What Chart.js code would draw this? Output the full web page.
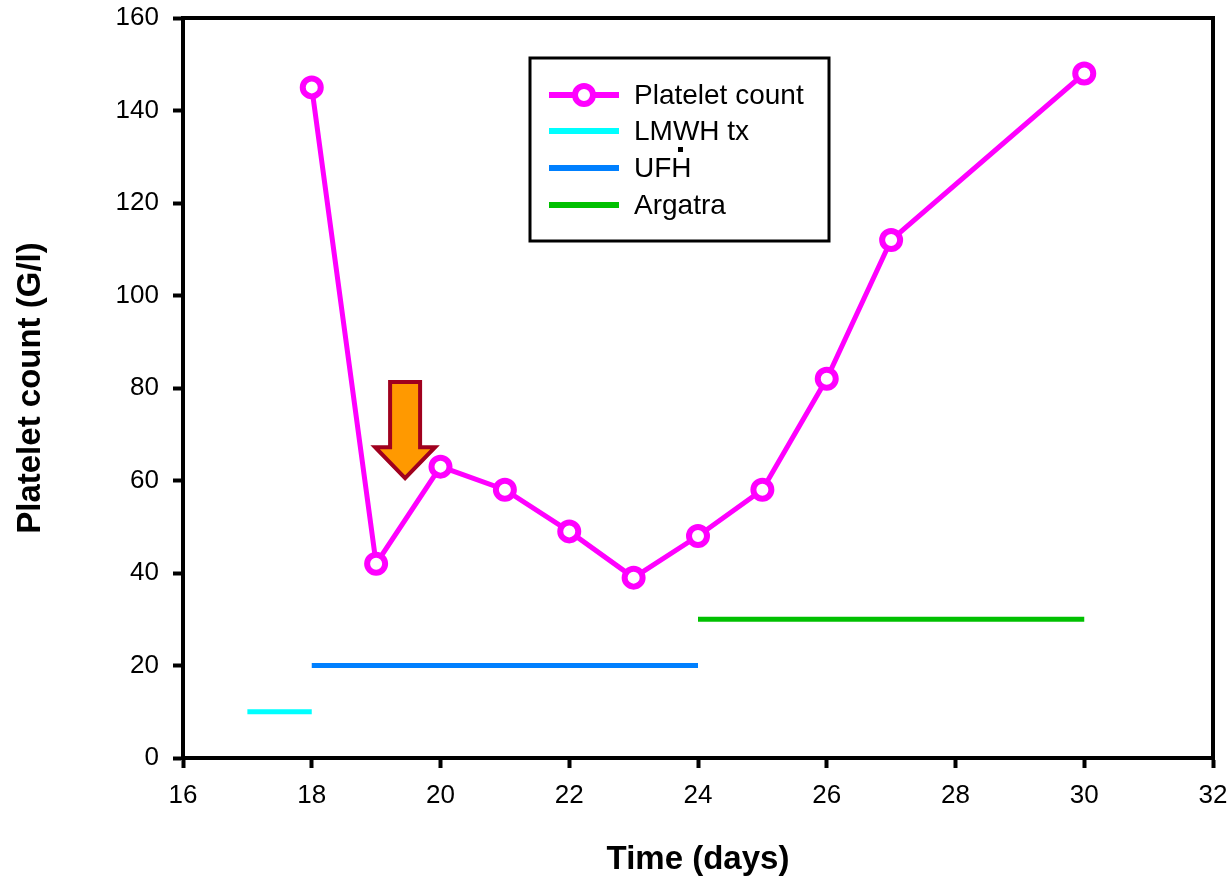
<!DOCTYPE html>
<html>
<head>
<meta charset="utf-8">
<script src="https://cdn.jsdelivr.net/npm/chart.js@4.4.1/dist/chart.umd.min.js"></script>
<style>
  html, body { margin: 0; padding: 0; background: #fff; }
  canvas { display: block; }
</style>
</head>
<body>
<canvas id="c" width="1231" height="881"></canvas>
<script>
// ---- data ----
const days = [18, 19, 20, 21, 22, 23, 24, 25, 26, 27, 30];
const platelets = [145, 42, 63, 58, 49, 39, 48, 58, 82, 112, 148];
const lmwhDays = [17, 18];
const lmwhLevel = [10, 10];
const ufhDays = [18, 24];
const ufhLevel = [20, 20];
const argatraDays = [24, 30];
const argatraLevel = [30, 30];
const seriesLabels = ['Platelet count', 'LMWH tx', 'UFH', 'Argatra'];
const xTitle = 'Time (days)';
const yTitle = 'Platelet count (G/l)';
// arrow annotation (data coords)
const arrowX = 19.45, arrowTop = 81.3, arrowTip = 60.5;

const FONT = '"Liberation Sans", Arial, sans-serif';
const pts = (xs, ys) => xs.map((x, i) => ({ x: x, y: ys[i] }));

const frame = {
  id: 'frame',
  beforeDatasetsDraw(chart) {
    const { ctx, chartArea: a } = chart;
    ctx.save();
    ctx.strokeStyle = '#000';
    ctx.lineWidth = 4;
    ctx.strokeRect(a.left, a.top, a.right - a.left, a.bottom - a.top);
    ctx.restore();
  }
};

const arrow = {
  id: 'arrow',
  afterDatasetsDraw(chart) {
    const { ctx, scales: { x, y } } = chart;
    const cx = x.getPixelForValue(arrowX);
    const top = y.getPixelForValue(arrowTop);
    const tip = y.getPixelForValue(arrowTip);
    const headLen = 31, shaftHW = 15, headHW = 30;
    const base = tip - headLen;
    ctx.save();
    ctx.beginPath();
    ctx.moveTo(cx - shaftHW, top);
    ctx.lineTo(cx + shaftHW, top);
    ctx.lineTo(cx + shaftHW, base);
    ctx.lineTo(cx + headHW, base);
    ctx.lineTo(cx, tip);
    ctx.lineTo(cx - headHW, base);
    ctx.lineTo(cx - shaftHW, base);
    ctx.closePath();
    ctx.fillStyle = '#FF9900';
    ctx.fill();
    ctx.lineWidth = 4;
    ctx.lineJoin = 'miter';
    ctx.strokeStyle = '#A0001E';
    ctx.stroke();
    ctx.restore();
  }
};

const legendBox = {
  id: 'legendBox',
  afterDatasetsDraw(chart) {
    const ctx = chart.ctx;
    const bx = 530, by = 58, bw = 299, bh = 183;
    ctx.save();
    ctx.fillStyle = '#fff';
    ctx.fillRect(bx, by, bw, bh);
    ctx.strokeStyle = '#000';
    ctx.lineWidth = 3;
    ctx.strokeRect(bx, by, bw, bh);
    const rows = [95, 131, 168, 205];
    chart.data.datasets.forEach((ds, i) => {
      const ry = rows[i];
      ctx.beginPath();
      ctx.moveTo(549, ry);
      ctx.lineTo(619, ry);
      ctx.strokeStyle = ds.borderColor;
      ctx.lineWidth = ds.borderWidth + 1;
      ctx.stroke();
      if (ds.pointRadius > 0) {
        ctx.beginPath();
        ctx.arc(584, ry, ds.pointRadius, 0, Math.PI * 2);
        ctx.fillStyle = '#fff';
        ctx.fill();
        ctx.lineWidth = ds.pointBorderWidth;
        ctx.strokeStyle = ds.borderColor;
        ctx.stroke();
      }
      ctx.fillStyle = '#000';
      ctx.font = '28px ' + FONT;
      ctx.textBaseline = 'middle';
      ctx.textAlign = 'left';
      ctx.fillText(ds.label, 634, ry + 1);
    });
    ctx.fillStyle = '#000';
    ctx.fillRect(678, 147, 5, 5);
    ctx.restore();
  }
};

new Chart(document.getElementById('c'), {
  type: 'line',
  data: {
    datasets: [
      {
        label: seriesLabels[0],
        data: pts(days, platelets),
        borderColor: '#FF00FF',
        backgroundColor: '#FFFFFF',
        borderWidth: 5,
        pointRadius: 9,
        pointBorderWidth: 6,
        pointBackgroundColor: '#FFFFFF',
        pointBorderColor: '#FF00FF',
        tension: 0,
        order: 0
      },
      {
        label: seriesLabels[1],
        data: pts(lmwhDays, lmwhLevel),
        borderColor: '#00FFFF',
        borderWidth: 5,
        pointRadius: 0,
        order: 1
      },
      {
        label: seriesLabels[2],
        data: pts(ufhDays, ufhLevel),
        borderColor: '#0080FF',
        borderWidth: 5,
        pointRadius: 0,
        order: 1
      },
      {
        label: seriesLabels[3],
        data: pts(argatraDays, argatraLevel),
        borderColor: '#00C000',
        borderWidth: 5,
        pointRadius: 0,
        order: 1
      }
    ]
  },
  options: {
    responsive: false,
    animation: false,
    devicePixelRatio: 1,
    layout: { padding: { left: 0, top: 18, right: 18, bottom: 0 } },
    plugins: {
      legend: { display: false },
      tooltip: { enabled: false }
    },
    scales: {
      x: {
        type: 'linear',
        min: 16, max: 32,
        ticks: { stepSize: 2, color: '#000', font: { family: FONT, size: 26 }, padding: 12, maxRotation: 0 },
        grid: { drawOnChartArea: false, drawTicks: true, tickLength: 10, tickWidth: 4, color: '#000' },
        border: { display: true, color: '#000', width: 4 },
        title: { display: true, text: xTitle, color: '#000', font: { family: FONT, size: 33, weight: 'bold' }, padding: { top: 0, bottom: 1 } },
        afterFit: (s) => { s.height = 123; s.paddingLeft = 0; s.paddingRight = 0; }
      },
      y: {
        type: 'linear',
        min: 0, max: 160,
        ticks: { stepSize: 20, color: '#000', font: { family: FONT, size: 26 }, padding: 14 },
        grid: { drawOnChartArea: false, drawTicks: true, tickLength: 10, tickWidth: 4, color: '#000' },
        border: { display: true, color: '#000', width: 4 },
        title: { display: true, text: yTitle, color: '#000', font: { family: FONT, size: 33, weight: 'bold' }, padding: { top: 11, bottom: 0 } },
        afterFit: (s) => { s.width = 183; s.paddingTop = 0; s.paddingBottom = 0; }
      }
    }
  },
  plugins: [frame, arrow, legendBox]
});
</script>
</body>
</html>
